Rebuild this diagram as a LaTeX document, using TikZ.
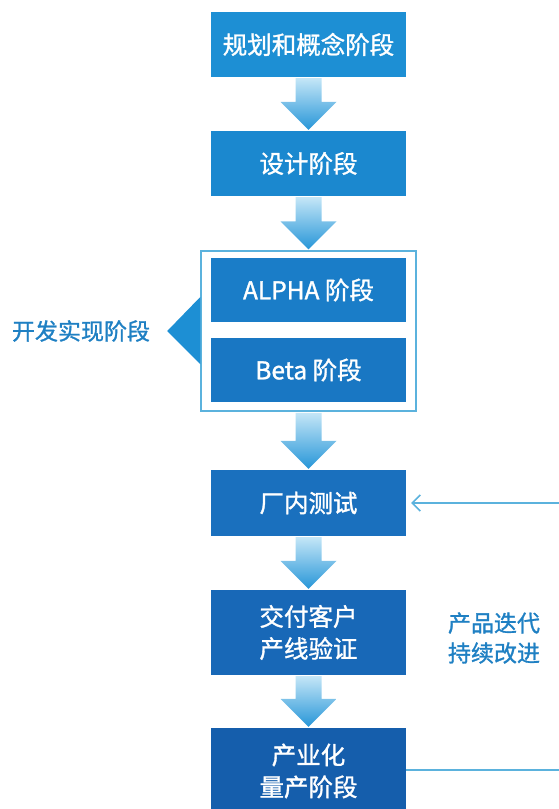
\documentclass[tikz,border=0pt]{standalone}
\usepackage{fontspec}
\setmainfont{Noto Sans CJK SC}[FakeBold=1.2]
\usetikzlibrary{arrows.meta}
\usetikzlibrary{calc}
\definecolor{stageA}{HTML}{1D8FD4}
\definecolor{stageB}{HTML}{1B88CF}
\definecolor{stageC}{HTML}{1A7DC8}
\definecolor{stageD}{HTML}{1977C3}
\definecolor{stageE}{HTML}{1A70BE}
\definecolor{stageF}{HTML}{1868B7}
\definecolor{stageG}{HTML}{155EAC}
\definecolor{arrowtop}{HTML}{C4E6F7}
\definecolor{arrowbot}{HTML}{2796D8}
\definecolor{framecol}{HTML}{5BB2DD}
\definecolor{labelcol}{HTML}{1F80C3}
\tikzset{
  stage/.style={fill=#1, text=white, minimum width=195pt, minimum height=65pt,
    inner sep=0pt, align=center, font=\fontsize{24.5}{32}\selectfont},
  sidelabel/.style={text=labelcol, align=center, inner sep=0pt, font=\fontsize{23}{30}\selectfont}
}
\newcommand\flowarrow[2]{%
  \shade[top color=arrowtop, bottom color=arrowbot]
    ($(#1.south)+(-13,1)$) -- ($(#1.south)+(13,1)$) -- ($(#2.north)+(13,-29)$)
    -- ($(#2.north)+(28,-29)$) -- ($(#2.north)+(0,-1)$) -- ($(#2.north)+(-28,-29)$)
    -- ($(#2.north)+(-13,-29)$) -- cycle;}

\begin{document}
\begin{tikzpicture}[x=1pt, y=-1pt]
\useasboundingbox (0,0) rectangle (559,809);

\node[stage=stageA] (plan) at (308.5, 44.5) {规划和概念阶段};
\node[stage=stageB] (design) at (308.5, 163.5) {设计阶段};
\node[draw=framecol, line width=1.5pt, minimum width=215pt, minimum height=160pt, inner sep=0pt] (dev) at (308.5, 331) {};
\node[stage=stageC, minimum height=64pt] (alpha) at (308.5, 290) {ALPHA 阶段};
\node[stage=stageD, minimum height=64pt] (beta) at (308.5, 370) {Beta 阶段};
\node[stage=stageE, minimum height=66pt] (test) at (308.5, 503) {厂内测试};
\node[stage=stageF, minimum height=85pt] (verify) at (308.5, 632.5) {交付客户\\产线验证};
\node[stage=stageG, minimum height=86pt] (mass) at (308.5, 771) {产业化\\量产阶段};

% pointer for the development phase
\fill[stageA] ($(dev.west)+(0,-34)$) -- ($(dev.west)+(-33,0)$) -- ($(dev.west)+(0,33)$) -- cycle;
\node[sidelabel] (devlabel) at (81, 331) {开发实现阶段};

\flowarrow{plan}{design}
\flowarrow{design}{dev}
\flowarrow{dev}{test}
\flowarrow{test}{verify}
\flowarrow{verify}{mass}

% feedback loop
\coordinate (loopbot) at (563, 770);
\coordinate (looptop) at (563, 503);
\draw[framecol, line width=1.5pt, -{Straight Barb[length=8pt, width=16pt]}]
  (mass.east |- loopbot) -- (loopbot) -- (looptop) -- ([xshift=5pt]test.east);
\node[sidelabel] (looplabel) at (494, 638) {产品迭代\\持续改进};
\end{tikzpicture}
\end{document}
